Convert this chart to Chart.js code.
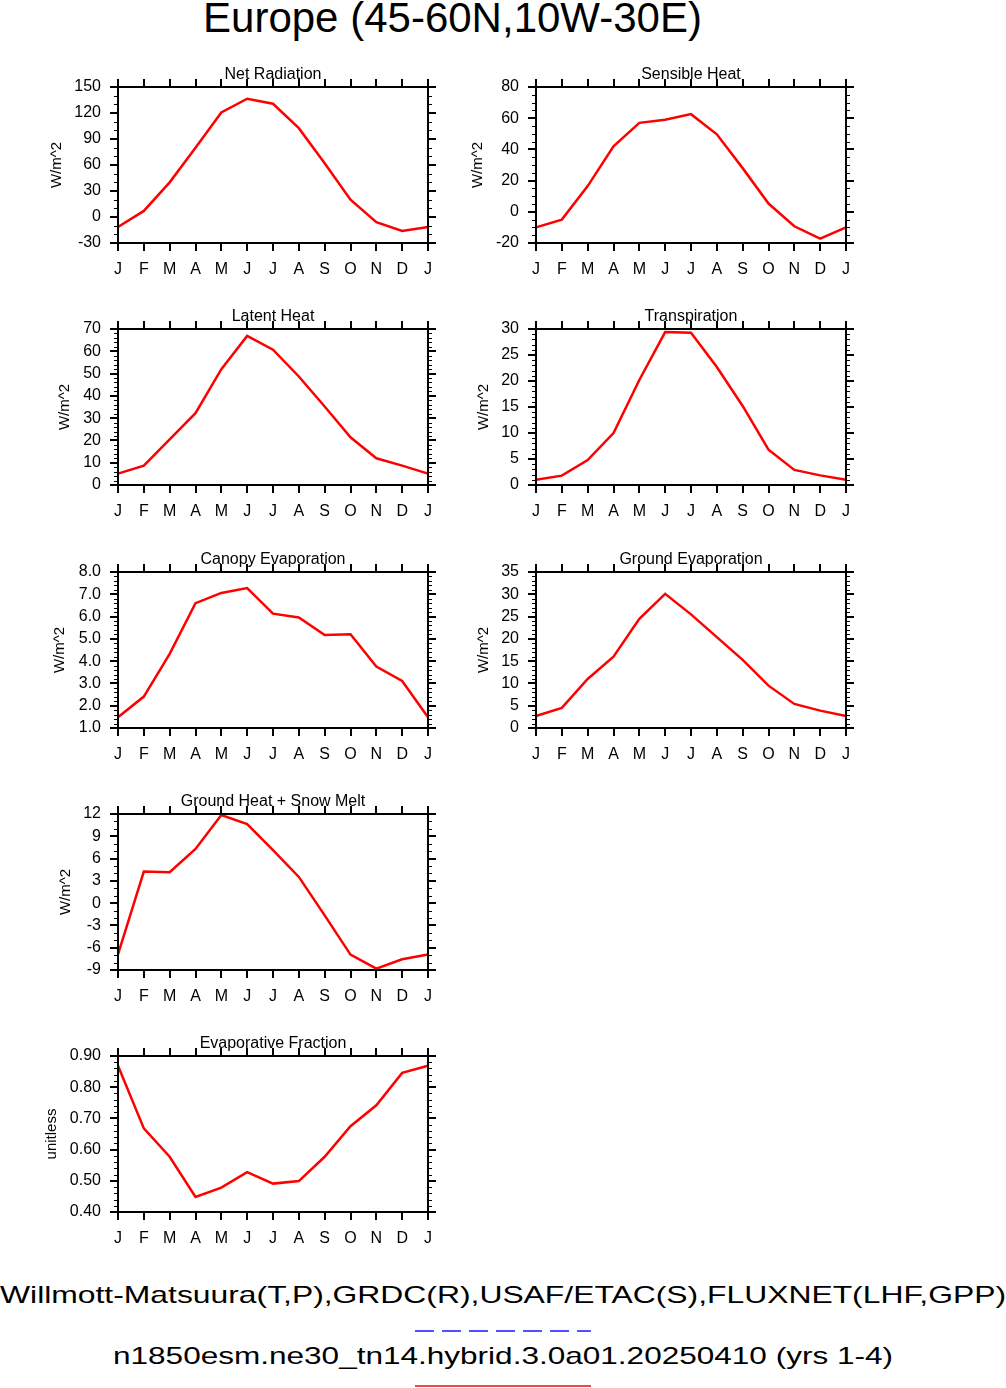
<!DOCTYPE html>
<html>
<head>
<meta charset="utf-8">
<script src="https://cdn.jsdelivr.net/npm/chart.js@4.4.1/dist/chart.umd.min.js"></script>
<style>
  html, body { margin: 0; padding: 0; background: #fff; }
  #page { position: relative; width: 1006px; height: 1388px; overflow: hidden;
          font-family: 'Liberation Sans', Arial, sans-serif; }
  .panel { position: absolute; }
  .fit { position: absolute; white-space: nowrap; line-height: 1; color: #000; transform-origin: 0 0; }
  svg { position: absolute; left: 0; top: 0; }
</style>
</head>
<body>
<div id="page">
  <div class="fit" data-left="203" data-width="499" style="top:-3px;font-size:42px">Europe (45-60N,10W-30E)</div>
  <div class="fit" data-left="0" data-width="1006" style="top:1283px;font-size:24px">Willmott-Matsuura(T,P),GRDC(R),USAF/ETAC(S),FLUXNET(LHF,GPP)</div>
  <div class="fit" data-left="113" data-width="780" style="top:1344px;font-size:24px">n1850esm.ne30_tn14.hybrid.3.0a01.20250410 (yrs 1-4)</div>
  <svg width="1006" height="1388">
    <line x1="415" y1="1331" x2="591" y2="1331" stroke="#5050ff" stroke-width="2" stroke-dasharray="19 8"/>
    <line x1="415" y1="1386" x2="591" y2="1386" stroke="#f04848" stroke-width="2"/>
  </svg>
</div>
<script>
// months along the x axis (January repeated at the end)
const months = ['J', 'F', 'M', 'A', 'M', 'J', 'J', 'A', 'S', 'O', 'N', 'D', 'J'];

// monthly climatology, values
const netRadiation = [-11.5, 7, 40, 80, 120.6, 136.5, 130.7, 102.5, 62, 20, -6, -16, -11.5];
const sensibleHeat = [-10, -5, 16.5, 42, 57, 59, 62.6, 49.7, 28, 5.3, -9.3, -17.2, -10];
const latentHeat = [5.1, 8.7, 20.5, 32.2, 52, 66.9, 60.7, 48.7, 35.2, 21.4, 12, 8.7, 5.1];
const transpiration = [1.0, 1.8, 4.8, 10, 20.2, 29.4, 29.3, 22.7, 15.2, 6.8, 2.9, 1.85, 1.0];
const canopyEvap = [1.48, 2.41, 4.33, 6.6, 7.06, 7.28, 6.13, 5.96, 5.17, 5.21, 3.76, 3.11, 1.48];
const groundEvap = [2.7, 4.5, 11, 16, 24.5, 30.1, 25.5, 20.4, 15.3, 9.5, 5.4, 3.9, 2.7];
const groundHeatSnow = [-6.9, 4.25, 4.16, 7.3, 11.86, 10.65, 7.13, 3.53, -1.65, -6.93, -8.82, -7.56, -6.9];
const evapFraction = [0.869, 0.668, 0.577, 0.448, 0.478, 0.528, 0.491, 0.499, 0.577, 0.675, 0.742, 0.846, 0.869];

const FONT = "'Liberation Sans', Arial, sans-serif";

// left/top = corner of the plot frame in page pixels, gap = y-title distance from frame
const panels = [
  { title: 'Net Radiation', unit: 'W/m^2', data: netRadiation, min: -30, max: 150, major: 30, minor: 10, dec: 0, left: 118, top: 87, gap: 61 },
  { title: 'Sensible Heat', unit: 'W/m^2', data: sensibleHeat, min: -20, max: 80, major: 20, minor: 5, dec: 0, left: 536, top: 87, gap: 58 },
  { title: 'Latent Heat', unit: 'W/m^2', data: latentHeat, min: 0, max: 70, major: 10, minor: 2, dec: 0, left: 118, top: 329, gap: 53 },
  { title: 'Transpiration', unit: 'W/m^2', data: transpiration, min: 0, max: 30, major: 5, minor: 1, dec: 0, left: 536, top: 329, gap: 52 },
  { title: 'Canopy Evaporation', unit: 'W/m^2', data: canopyEvap, min: 1, max: 8, major: 1, minor: 0.2, dec: 1, left: 118, top: 572, gap: 58 },
  { title: 'Ground Evaporation', unit: 'W/m^2', data: groundEvap, min: 0, max: 35, major: 5, minor: 1, dec: 0, left: 536, top: 572, gap: 52 },
  { title: 'Ground Heat + Snow Melt', unit: 'W/m^2', data: groundHeatSnow, min: -9, max: 12, major: 3, minor: 1, dec: 0, left: 118, top: 814, gap: 52 },
  { title: 'Evaporative Fraction', unit: 'unitless', data: evapFraction, min: 0.4, max: 0.9, major: 0.1, minor: 0.02, dec: 2, left: 118, top: 1056, gap: 66 }
];

// frame plus outward major/minor tick marks on all four sides
const frameTicks = {
  id: 'frameTicks',
  afterDatasetsDraw(chart, args, opts) {
    const { ctx, chartArea: a, scales: { x, y } } = chart;
    ctx.save();
    ctx.strokeStyle = '#000';
    ctx.lineCap = 'butt';

    ctx.lineWidth = 1;
    ctx.beginPath();
    const n = Math.round((opts.max - opts.min) / opts.minor);
    for (let k = 0; k <= n; k++) {
      const v = opts.min + k * opts.minor;
      const r = (v - opts.min) / opts.major;
      if (Math.abs(r - Math.round(r)) < 1e-6) continue;
      const py = Math.round(y.getPixelForValue(v)) + 0.5;
      ctx.moveTo(a.left - 4, py); ctx.lineTo(a.left, py);
      ctx.moveTo(a.right, py); ctx.lineTo(a.right + 4, py);
    }
    ctx.stroke();

    ctx.lineWidth = 2;
    ctx.beginPath();
    const m = Math.round((opts.max - opts.min) / opts.major);
    for (let k = 0; k <= m; k++) {
      const py = Math.round(y.getPixelForValue(opts.min + k * opts.major));
      ctx.moveTo(a.left - 8, py); ctx.lineTo(a.left, py);
      ctx.moveTo(a.right, py); ctx.lineTo(a.right + 8, py);
    }
    for (let i = 0; i < months.length; i++) {
      const px = Math.round(x.getPixelForValue(i));
      ctx.moveTo(px, a.bottom); ctx.lineTo(px, a.bottom + 8);
      ctx.moveTo(px, a.top); ctx.lineTo(px, a.top - 8);
    }
    ctx.stroke();
    ctx.strokeRect(a.left, a.top, a.right - a.left, a.bottom - a.top);
    ctx.restore();
  }
};

const page = document.getElementById('page');

panels.forEach(p => {
  const canvas = document.createElement('canvas');
  canvas.className = 'panel';
  canvas.width = 411;
  canvas.height = 226;
  canvas.style.left = (p.left - 80) + 'px';
  canvas.style.top = (p.top - 30) + 'px';
  page.appendChild(canvas);

  new Chart(canvas.getContext('2d'), {
    type: 'line',
    data: {
      labels: months,
      datasets: [{
        data: p.data,
        borderColor: '#ff0000',
        borderWidth: 2.5,
        pointRadius: 0,
        tension: 0,
        fill: false
      }]
    },
    options: {
      responsive: false,
      animation: false,
      layout: { padding: { top: 7.8, right: 20, left: 0, bottom: 0 } },
      plugins: {
        legend: { display: false },
        tooltip: { enabled: false },
        title: {
          display: true,
          text: p.title,
          fullSize: false,
          color: '#000',
          font: { family: FONT, size: 16, weight: 'normal', lineHeight: 1.2 },
          padding: { top: 0, bottom: 3 }
        },
        frameTicks: { min: p.min, max: p.max, major: p.major, minor: p.minor }
      },
      scales: {
        x: {
          type: 'category',
          grid: { display: false, drawTicks: false },
          border: { display: false },
          ticks: { autoSkip: false, maxRotation: 0, color: '#000', font: { family: FONT, size: 16 }, padding: 17 },
          afterFit: s => { s.height = 40; }
        },
        y: {
          min: p.min,
          max: p.max,
          grid: { display: false, drawTicks: false },
          border: { display: false },
          ticks: {
            stepSize: p.major,
            color: '#000',
            font: { family: FONT, size: 16 },
            padding: 17,
            callback: v => Number(v).toFixed(p.dec)
          },
          title: {
            display: true,
            text: p.unit,
            color: '#000',
            font: { family: FONT, size: 15 },
            padding: { top: 71 - p.gap, bottom: 0 }
          },
          afterFit: s => { s.width = 80; }
        }
      }
    },
    plugins: [frameTicks]
  });
});

// stretch the page texts to the widths they have in the reference
document.querySelectorAll('.fit').forEach(el => {
  const w = el.getBoundingClientRect().width;
  el.style.left = el.dataset.left + 'px';
  el.style.transform = 'scaleX(' + (el.dataset.width / w) + ')';
});
</script>
</body>
</html>
